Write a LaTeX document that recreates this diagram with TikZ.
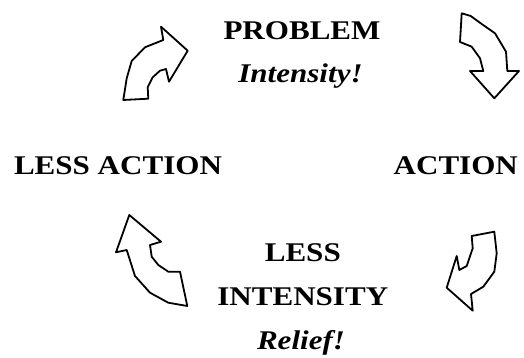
\documentclass[tikz,border=0pt]{standalone}
\usepackage{fontspec}
\setmainfont{Liberation Serif}[FakeStretch=1.15]
\begin{document}
\begin{tikzpicture}[x=1pt,y=-1pt]

\tikzstyle{word} = [anchor=base, inner sep=0pt,
	font=\fontsize{27}{43}\selectfont\bfseries];
\tikzstyle{note} = [word, font=\fontsize{27}{43}\selectfont\bfseries\itshape];
\tikzstyle{turnarrow} = [draw=black, fill=white, line width=1.8pt, line join=round];
\useasboundingbox (0,0) rectangle (524,358);

\node[word] (prob) at (302,39.3) {PROBLEM};
\node[note] (intens) at (300.5,82.8) {Intensity!};
\node[word] (act) at (455.8,175) {ACTION};
\node[word] (lessact) at (118,175) {LESS ACTION};
\node[word] (less) at (302.8,261.7) {LESS};
\node[word] (lessint) at (302.8,305) {INTENSITY};
\node[note] (relief) at (301,349) {Relief!};

% curved arrows round the cycle
\draw[turnarrow] (123.3,100) -- (148.3,98.7) -- (147.7,87.3) -- (152.7,77.3)
	-- (160,70.7) -- (166,69) -- (169,81.7) -- (187.7,50.7) -- (161,26.7)
	-- (163.3,40) -- (145,47.3) -- (131.7,61) -- (126.7,78.3) -- cycle;
\draw[turnarrow] (461.7,13.3) -- (470.7,16) -- (481.7,24) -- (495,33.3)
	-- (506,51.7) -- (507.3,71) -- (519,71) -- (494.3,98.3) -- (470,71)
	-- (483.3,71) -- (480,58.3) -- (471.7,46.7) -- (460,42) -- cycle;
\draw[turnarrow] (471.7,236) -- (494.3,231.7) -- (496.7,253.3) -- (494.3,271.7)
	-- (483.3,286.7) -- (471,294) -- (472.7,310.7) -- (446.7,287.7)
	-- (456.7,256) -- (459.3,270) -- (466.7,266) -- (472.7,248.3) -- cycle;
\draw[turnarrow] (129.3,215) -- (161,241.7) -- (150,245) -- (151.7,256.7)
	-- (158.3,265) -- (168.3,271.7) -- (180,271.7) -- (187.3,306)
	-- (168.3,302.7) -- (150,292.7) -- (135,276) -- (126.7,250)
	-- (116,252.3) -- cycle;

\end{tikzpicture}
\end{document}
